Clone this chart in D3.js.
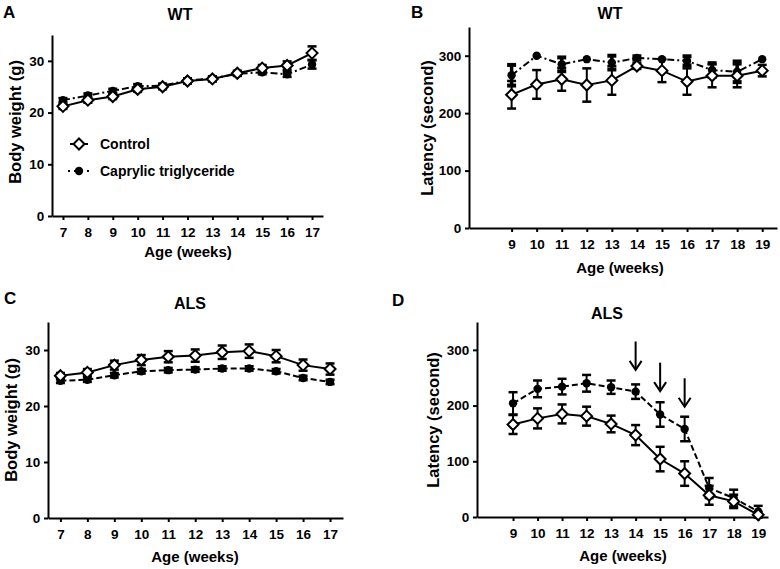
<!DOCTYPE html>
<html>
<head>
<meta charset="utf-8">
<script src="https://cdn.jsdelivr.net/npm/d3@7"></script>
<style>
  body { margin: 0; background: #fff; }
  text { font-family: "Liberation Sans", Arial, sans-serif; font-weight: bold; fill: #000; }
</style>
</head>
<body>
<svg id="fig" width="780" height="569"></svg>
<script>
// weeks
const weeksWeight = [7, 8, 9, 10, 11, 12, 13, 14, 15, 16, 17]
const weeksLatency = [9, 10, 11, 12, 13, 14, 15, 16, 17, 18, 19]

// A - WT body weight
const wtWeightControl = [21.2, 22.4, 23.1, 24.5, 25.0, 26.1, 26.5, 27.6, 28.6, 29.1, 31.5]
const wtWeightControlErr = [0.5, 0.5, 0.5, 0.5, 0.5, 0.5, 0.5, 0.5, 0.6, 0.8, 1.3]
const wtWeightCapr = [22.4, 23.3, 24.2, 25.1, 25.2, 26.2, 26.6, 27.5, 27.8, 27.4, 29.3]
const wtWeightCaprErr = [0.4, 0.4, 0.4, 0.4, 0.4, 0.4, 0.4, 0.4, 0.4, 0.5, 0.8]

// B - WT latency
const wtLatControl = [232, 250, 259, 249, 257, 282, 274, 255, 265, 265, 274]
const wtLatControlErr = [24, 25, 20, 29, 25, 5, 20, 23, 20, 20, 10]
const wtLatCapr = [266, 300, 285, 294, 288, 296, 294, 291, 275, 272, 294]
const wtLatCaprErr = [18, 0, 12, 0, 12, 3, 0, 8, 12, 18, 0]

// C - ALS body weight
const alsWeightControl = [25.4, 26.0, 27.3, 28.2, 28.8, 29.0, 29.6, 29.8, 28.9, 27.3, 26.6]
const alsWeightControlErr = [0.5, 0.6, 0.8, 0.9, 1.0, 1.1, 1.2, 1.2, 1.1, 1.0, 1.0]
const alsWeightCapr = [24.5, 24.7, 25.5, 26.2, 26.4, 26.5, 26.7, 26.7, 26.2, 25.0, 24.3]
const alsWeightCaprErr = [0.4, 0.4, 0.4, 0.4, 0.4, 0.4, 0.4, 0.4, 0.4, 0.4, 0.4]

// D - ALS latency
const alsLatControl = [166, 177, 185, 181, 167, 147, 104, 78, 39, 28, 4]
const alsLatControlErr = [17, 18, 17, 17, 15, 18, 22, 22, 17, 12, 5]
const alsLatCapr = [204, 230, 234, 240, 233, 225, 184, 158, 52, 34, 10]
const alsLatCaprErr = [20, 15, 14, 15, 12, 13, 22, 22, 18, 15, 10]

// arrows in D (week, tip value)
const arrowWeeks = [14, 15, 16]
const arrowTips = [264, 226, 198]

const svg = d3.select('#fig')

function panel(cfg) {
  let x = d3.scaleLinear().domain(cfg.xd).range(cfg.xr)
  let y = d3.scaleLinear().domain(cfg.yd).range(cfg.yr)
  let g = svg.append('g')

  let ax = g.append('g')
    .attr('transform', `translate(0,${cfg.yr[0]})`)
    .call(d3.axisBottom(x).tickValues(cfg.weeks).tickFormat(d3.format('d')).tickSize(4).tickSizeOuter(0))
  let ay = g.append('g')
    .attr('transform', `translate(${cfg.xr[0]},0)`)
    .call(d3.axisLeft(y).tickValues(cfg.yticks).tickSize(4).tickSizeOuter(0))
  ;[ax, ay].forEach(a => {
    a.select('.domain').attr('stroke-width', 2)
    a.selectAll('.tick line').attr('stroke-width', 2)
    a.selectAll('.tick text').style('font-size', '13.5px').style('font-weight', 'bold')
  })
  ax.selectAll('.tick text').attr('dy', '1.0em')
  ay.selectAll('.tick text').attr('dx', '-0.05em')

  // titles
  g.append('text').attr('x', cfg.letter[0]).attr('y', cfg.letter[1])
    .style('font-size', '17px').text(cfg.name)
  g.append('text').attr('x', cfg.title[0]).attr('y', cfg.title[1])
    .attr('text-anchor', 'middle').style('font-size', '16px').text(cfg.titleText)
  g.append('text').attr('x', cfg.xlab[0]).attr('y', cfg.xlab[1])
    .attr('text-anchor', 'middle').style('font-size', '15px').text('Age (weeks)')
  g.append('text')
    .attr('transform', `translate(${cfg.ylab[0]},${cfg.ylab[1]}) rotate(-90)`)
    .attr('text-anchor', 'middle').style('font-size', '16.5px').text(cfg.ylabText)

  let line = d3.line().x(d => x(d[0])).y(d => y(d[1]))

  // caprylic series
  let cap = cfg.weeks.map((w, i) => [w, cfg.capr[i], cfg.caprErr[i]])
  g.append('path').datum(cap).attr('d', line)
    .attr('fill', 'none').attr('stroke', '#000').attr('stroke-width', 2)
    .attr('stroke-dasharray', cfg.dash)
  errBars(g, cap, x, y, cfg.thickErr ? 3.5 : 2)
  g.selectAll('.capdot').data(cap).enter().append('circle')
    .attr('cx', d => x(d[0])).attr('cy', d => y(d[1])).attr('r', 4.2)
    .attr('fill', '#000')

  // control series
  let ctl = cfg.weeks.map((w, i) => [w, cfg.ctl[i], cfg.ctlErr[i]])
  g.append('path').datum(ctl).attr('d', line)
    .attr('fill', 'none').attr('stroke', '#000').attr('stroke-width', 2)
  errBars(g, ctl, x, y, 2)
  g.selectAll('.ctl').data(ctl).enter().append('path')
    .attr('d', diamond())
    .attr('transform', d => `translate(${x(d[0])},${y(d[1])})`)
    .attr('fill', '#fff').attr('stroke', '#000').attr('stroke-width', 2)

  return { x, y, g }
}

function diamond() {
  return 'M0,-5.5L5.5,0L0,5.5L-5.5,0Z'
}

function errBars(g, data, x, y, sw) {
  let eb = g.append('g')
  data.filter(d => d[2] > 0).forEach(d => {
    let cx = x(d[0]), t = y(d[1] + d[2]), b = y(d[1] - d[2])
    eb.append('line').attr('x1', cx).attr('x2', cx).attr('y1', t).attr('y2', b)
      .attr('stroke', '#000').attr('stroke-width', sw)
    ;[t, b].forEach(v => {
      eb.append('line').attr('x1', cx - 4.5).attr('x2', cx + 4.5).attr('y1', v).attr('y2', v)
        .attr('stroke', '#000').attr('stroke-width', sw + 0.5)
    })
  })
}

panel({
  name: 'A', titleText: 'WT', ylabText: 'Body weight (g)',
  weeks: weeksWeight, ctl: wtWeightControl, ctlErr: wtWeightControlErr,
  capr: wtWeightCapr, caprErr: wtWeightCaprErr,
  xd: [6.56, 17.44], xr: [52, 323], yd: [0, 35], yr: [216, 35], yticks: [0, 10, 20, 30],
  dash: '7,3,2,3', letter: [3, 18], title: [180, 20], xlab: [188, 257], ylab: [21, 122]
})

// legend in A
const leg = svg.append('g')
leg.append('line').attr('x1', 70).attr('x2', 88).attr('y1', 144).attr('y2', 144)
  .attr('stroke', '#000').attr('stroke-width', 2)
leg.append('path').attr('d', diamond()).attr('transform', 'translate(79,144)')
  .attr('fill', '#fff').attr('stroke', '#000').attr('stroke-width', 2)
leg.append('text').attr('x', 100).attr('y', 149).style('font-size', '14px').text('Control')
leg.append('line').attr('x1', 68).attr('x2', 90).attr('y1', 171).attr('y2', 171)
  .attr('stroke', '#000').attr('stroke-width', 2).attr('stroke-dasharray', '2,4,9,4')
leg.append('circle').attr('cx', 79).attr('cy', 171).attr('r', 4.2).attr('fill', '#000')
leg.append('text').attr('x', 100).attr('y', 176).style('font-size', '14px').text('Caprylic triglyceride')

panel({
  name: 'B', titleText: 'WT', ylabText: 'Latency (second)',
  weeks: weeksLatency, ctl: wtLatControl, ctlErr: wtLatControlErr,
  capr: wtLatCapr, caprErr: wtLatCaprErr, thickErr: true,
  xd: [7.3, 19.59], xr: [469, 777], yd: [0, 350], yr: [228, 27], yticks: [0, 100, 200, 300],
  dash: '7,3,2,3', letter: [411, 18], title: [610, 19], xlab: [620, 273], ylab: [433, 128]
})

panel({
  name: 'C', titleText: 'ALS', ylabText: 'Body weight (g)',
  weeks: weeksWeight, ctl: alsWeightControl, ctlErr: alsWeightControlErr,
  capr: alsWeightCapr, caprErr: alsWeightCaprErr,
  xd: [6.54, 17.48], xr: [48, 343], yd: [0, 35], yr: [518, 322], yticks: [0, 10, 20, 30],
  dash: '6,3', letter: [4, 304], title: [190, 309], xlab: [195, 562], ylab: [17, 420]
})

const pd = panel({
  name: 'D', titleText: 'ALS', ylabText: 'Latency (second)',
  weeks: weeksLatency, ctl: alsLatControl, ctlErr: alsLatControlErr,
  capr: alsLatCapr, caprErr: alsLatCaprErr,
  xd: [7.53, 19.4], xr: [477, 768], yd: [0, 350], yr: [517, 322], yticks: [0, 100, 200, 300],
  dash: '6,3', letter: [392, 306], title: [607, 319], xlab: [623, 561], ylab: [439, 420]
})

// arrows in D
arrowWeeks.forEach((w, i) => {
  let ax = pd.x(w), tip = pd.y(arrowTips[i]), top = pd.y(arrowTips[i] + 51)
  pd.g.append('line').attr('x1', ax).attr('x2', ax).attr('y1', top).attr('y2', tip - 1)
    .attr('stroke', '#000').attr('stroke-width', 2)
  pd.g.append('path').attr('d', `M${ax - 6},${tip - 9}L${ax},${tip}L${ax + 6},${tip - 9}`)
    .attr('fill', 'none').attr('stroke', '#000').attr('stroke-width', 2)
})
</script>
</body>
</html>
